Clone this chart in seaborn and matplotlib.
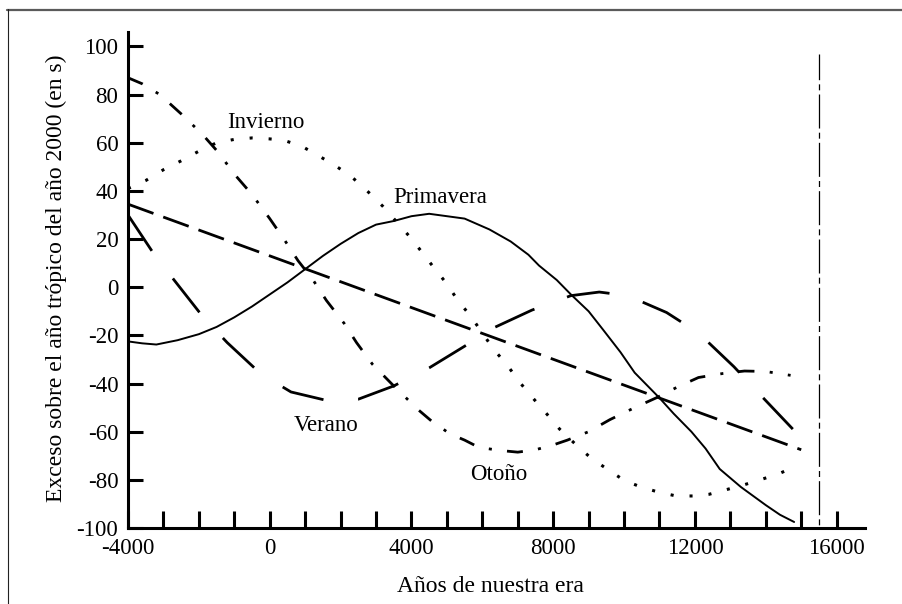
import matplotlib
matplotlib.use("Agg")
import matplotlib.pyplot as plt
from matplotlib.lines import Line2D
import pandas as pd
import seaborn as sns

# Exceso de cada estación sobre el año trópico del año 2000 (segundos)
primavera_x = [-4000, -3600, -3200, -2600, -2000, -1500, -1000, -500, 0, 500,
               1000, 1500, 2000, 2500, 3000, 3500, 4000, 4500, 5000, 5500,
               6200, 6800, 7300, 7600, 8100, 8500, 9000, 9400, 9900, 10300,
               10700, 11000, 11400, 11900, 12300, 12700, 13300, 14000, 14400, 14800]
primavera_y = [-22.5, -23.3, -23.8, -22, -19.5, -16.5, -12.5, -8, -3, 2,
               7.5, 13, 18, 22.5, 26, 27.5, 29.5, 30.5, 29.5, 28.5,
               24, 19, 13.5, 9, 3, -3, -10, -17.5, -27, -35.5,
               -41.5, -46, -52.5, -60, -67, -75.5, -83, -90.5, -94.5, -97.5]

verano_x = [-4000, -3300, -2700, -1900, -1200, -250, 600, 1600, 2500, 3500,
            4500, 5500, 6300, 7400, 8500, 9300, 10100, 11200, 12100, 13100,
            13800, 14800]
verano_y = [30, 14.5, 3, -12, -23, -36, -43.5, -47, -46.5, -41,
            -33.5, -24.5, -17, -9.5, -3.5, -2, -3.5, -10.5, -19, -33,
            -44, -59.5]

otono_x = [-4000, -3600, -3100, -2500, -1900, -1450, -1000, -500, 0, 400,
           800, 1200, 1600, 2100, 2450, 2900, 3500, 4200, 4600, 5100,
           5500, 5900, 6500, 7000, 7500, 8000, 8400, 9000, 9600, 10300,
           10900, 11500, 12100, 12800, 13400, 14000, 14700]
otono_y = [87, 84.5, 80, 72, 63.5, 56, 47, 38.5, 28.5, 20,
           11, 3.5, -5.5, -15, -23, -32, -41, -51, -56, -61,
           -63.5, -66.5, -67.8, -68.5, -67.5, -65.5, -63.5, -60, -55, -50,
           -46, -41.5, -37.5, -35.8, -34.8, -35, -36.6]

invierno_x = [-4000, -3500, -3000, -2500, -2000, -1500, -1000, -500, 0, 400,
              900, 1350, 1800, 2300, 2750, 3200, 3950, 4300, 4650, 5000,
              5300, 5680, 6320, 6700, 7050, 7420, 7800, 8180, 8600, 9070,
              9540, 10000, 10480, 10950, 11470, 11940, 12400, 12930, 13400, 13860,
              14380, 14850]
invierno_y = [41, 44.3, 48.8, 52.5, 56.5, 60, 61.4, 62, 61.6, 61,
              58.6, 54.8, 51, 46, 40, 33.5, 21, 14.5, 7.8, 1.4,
              -5.3, -12.2, -25.8, -32.3, -39.4, -45.9, -52.3, -58.9, -64.8, -71,
              -75.7, -80.2, -83, -85, -86.7, -86.7, -86, -83.9, -82, -79.9,
              -77.4, -74.3]

# Año trópico medio (recta)
medio_x = [-4000, 15000]
medio_y = [34.5, -67.5]

# Línea vertical de referencia
limite_x = [15500, 15500]
limite_y = [97, -100]

x_ticks = [-4000, 0, 4000, 8000, 12000, 16000]
y_ticks = [-100, -80, -60, -40, -20, 0, 20, 40, 60, 80, 100]

etiquetas = ["Invierno", "Primavera", "Verano", "Otoño"]
etiquetas_x = [-1214, 3489, 666, 5653]
etiquetas_y = [66.1, 35.0, -59.9, -79.9]

sns.set_theme(style="ticks")
plt.rcParams.update({
    "font.family": ["Liberation Serif", "DejaVu Serif"],
    "axes.unicode_minus": False,
    "lines.scale_dashes": False,
    "axes.edgecolor": "black",
    "xtick.color": "black",
    "ytick.color": "black",
    "text.color": "black",
})

W, H = 903, 604
fig = plt.figure(figsize=(W / 100, H / 100), dpi=100)
ax = fig.add_axes([128 / W, 1 - 528 / H, (865 - 128) / W, (528 - 32) / H])

series = [
    (primavera_x, primavera_y, "-", 1.4),
    (medio_x, medio_y, (0, (19.5, 7.5)), 2.0),
    (verano_x, verano_y, (0, (31, 25)), 2.0),
    (otono_x, otono_y, (0, (11.5, 11, 2.2, 11)), 2.0),
    (invierno_x, invierno_y, (0, (2.2, 11.5)), 2.2),
]
for xs, ys, ls, lw in series:
    df = pd.DataFrame({"x": xs, "y": ys})
    sns.lineplot(data=df, x="x", y="y", ax=ax, color="black", linewidth=lw,
                 linestyle=ls, estimator=None, errorbar=None, sort=False)

df_lim = pd.DataFrame({"x": limite_x, "y": limite_y})
sns.lineplot(data=df_lim, x="x", y="y", ax=ax, color="black", linewidth=0.9,
             linestyle=(6, (24.5, 3, 4.3, 3)), estimator=None, errorbar=None,
             sort=False, orient="y")

for txt, tx, ty in zip(etiquetas, etiquetas_x, etiquetas_y):
    ax.text(tx, ty, txt, fontsize=16.5, ha="left", va="baseline")

ax.set_xlim(-4000, 16800)
ax.set_ylim(-100, 106)
ax.set_xticks(x_ticks)
ax.set_xticklabels([str(v) for v in x_ticks])
ax.set_xticks(list(range(-4000, 16001, 1000)), minor=True)
ax.set_yticks(y_ticks)
ax.set_yticklabels([str(v) for v in y_ticks])
ax.tick_params(axis="x", which="both", direction="in", length=12, width=2.2,
               labelsize=16.5, pad=7.5)
ax.tick_params(axis="y", which="both", direction="in", length=11, width=2.2,
               labelsize=16.5, pad=7)
ax.set_xlabel("")
ax.set_ylabel("")
for side in ("top", "right"):
    ax.spines[side].set_visible(False)
for side in ("left", "bottom"):
    ax.spines[side].set_linewidth(2.2)
ax.set_facecolor("white")

fig.text(490 / W, 1 - 591.7 / H, "Años de nuestra era", fontsize=17,
         ha="center", va="baseline")
fig.text(62 / W, 1 - 278 / H, "Exceso sobre el año trópico del año 2000 (en s)",
         fontsize=17, rotation=90, rotation_mode="anchor",
         ha="center", va="baseline")

# Marco de la figura: borde superior gris y borde izquierdo
fig.add_artist(Line2D([7 / W, 1], [1 - 10 / H, 1 - 10 / H],
                      transform=fig.transFigure, color="#5a5a5a", linewidth=1.6))
fig.add_artist(Line2D([7.5 / W, 7.5 / W], [1 - 9 / H, 0],
                      transform=fig.transFigure, color="#222222", linewidth=0.8))

fig.savefig("out.png", dpi=100, facecolor="white")
